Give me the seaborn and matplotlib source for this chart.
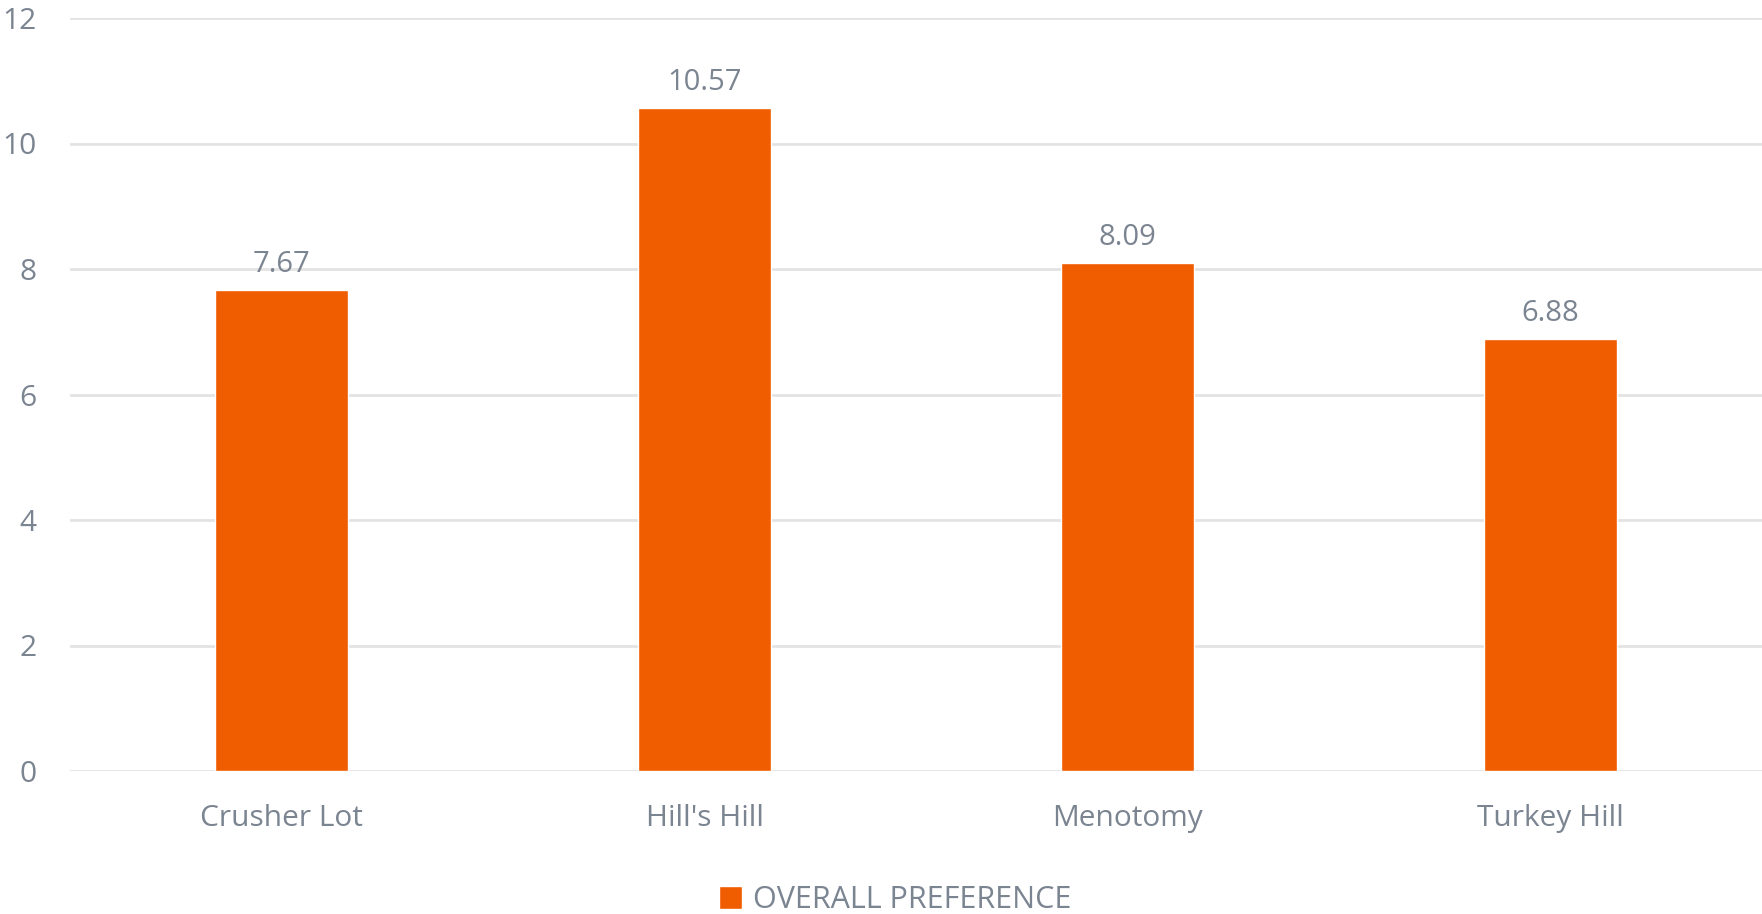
import pandas as pd
import matplotlib.pyplot as plt
import seaborn as sns

locations = ['Crusher Lot', "Hill's Hill", 'Menotomy', 'Turkey Hill']
preference = [7.67, 10.57, 8.09, 6.88]
series_name = 'OVERALL PREFERENCE'

dados = pd.DataFrame({'local': locations, 'valor': preference, 'serie': series_name})

sns.set_theme(style='white')
plt.rcParams['font.family'] = ['Open Sans', 'DejaVu Sans']
cinza = '#7b8491'
laranja = '#f05c00'

fig = plt.figure(figsize=(17.62, 9.14), dpi=100)
ax = fig.add_axes([70 / 1762, 1 - 771 / 914, 1 - 70 / 1762, (771 - 18) / 914])

sns.barplot(data=dados, x='local', y='valor', hue='serie', palette=[laranja],
            width=0.315, dodge=False, ax=ax, saturation=1)

ax.set_ylim(0, 12)
ax.set_xlim(-0.5, 3.5)
ax.set_yticks(range(0, 13, 2))
ax.yaxis.grid(True, color='#e3e3e3', linewidth=2)
ax.set_axisbelow(True)
for s in ax.spines.values():
    s.set_visible(False)
ax.set_xlabel('')
ax.set_ylabel('')
ax.tick_params(axis='y', labelsize=21.5, labelcolor=cinza, length=0, pad=24)
ax.tick_params(axis='x', labelsize=21.5, labelcolor=cinza, length=0, pad=24)

for c in ax.containers:
    ax.bar_label(c, labels=[f'{v:.2f}' for v in preference], fontsize=21,
                 color=cinza, padding=8)

sns.move_legend(ax, 'center', bbox_to_anchor=(0.508, 14 / 914),
                bbox_transform=fig.transFigure, title=None, frameon=False,
                fontsize=22, labelcolor=cinza, handlelength=0.75, handleheight=0.75,
                handletextpad=0.35)

fig.savefig('out.png', dpi=100)
